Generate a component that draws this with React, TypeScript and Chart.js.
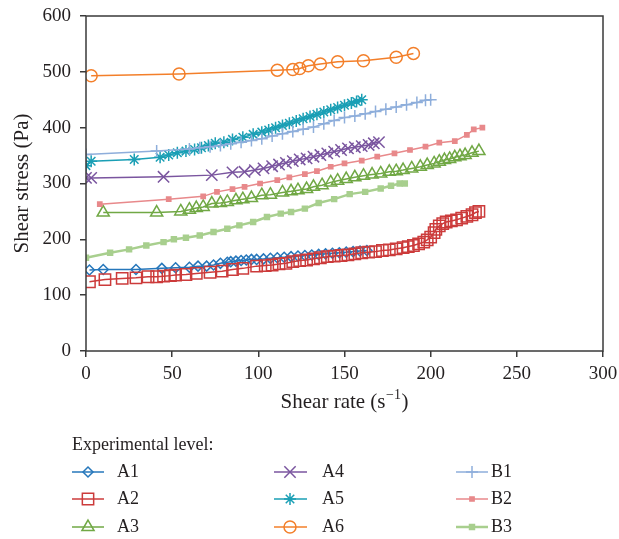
import React, { useEffect, useRef } from 'react';
import { Chart, registerables } from 'chart.js';
import { drawPoint } from 'chart.js/helpers';

Chart.register(...registerables);

const X_TICKS = [0, 50, 100, 150, 200, 250, 300];
const Y_TICKS = [0, 100, 200, 300, 400, 500, 600];

const A1_X = [2,10,29,44,52,60,65,70,74,78,82,84,87,90,93,96,99,103,107,111,115,119,123,127,131,135,139,143,147,151,155,159,163];
const A1_Y = [145,146,146,148,149,150,152,152,154,157,159,160,161,162,163,164,164,165,166,167,168,169,170,171,172,173,174,175,176,177,178,179,180];

const A2_X = [2,11,21,29,36,41,45,49,52,58,64,72,79,85,91,99,104,108,112,116,120,124,128,132,136,140,144,148,152,156,160,164,168,172,176,180,184,187,190,193,196,198,200,202,203,205,207,209,212,215,218,221,224,226,228];
const A2_Y = [124,128,130,131,133,133,134,135,136,137,139,141,143,146,148,152,153,154,156,157,160,162,163,165,167,169,170,171,172,174,176,177,178,180,181,183,185,187,189,192,195,199,204,212,218,224,228,231,233,235,238,241,244,248,250];

const A3_X = [10,41,55,60,64,68,73,78,82,87,91,96,102,107,114,119,123,128,132,137,142,146,151,156,161,166,171,176,180,184,189,194,198,202,205,208,211,214,217,220,224,228];
const A3_Y = [248,248,250,253,256,258,264,265,267,270,272,274,279,280,284,286,288,290,294,297,302,305,308,311,314,316,318,321,322,324,327,330,333,336,339,342,344,347,349,351,355,358];

const A4_X = [0,3,45,73,85,92,98,103,108,112,116,120,124,128,132,136,140,144,148,152,156,160,164,167,170];
const A4_Y = [310,310,312,315,320,321,324,327,331,334,337,340,343,345,348,351,354,357,360,363,365,367,369,372,374];

const A5_X = [0,3,28,43,48,53,58,63,67,71,75,80,85,91,97,102,106,110,114,118,122,126,130,134,138,142,146,150,154,157,160];
const A5_Y = [332,340,343,347,351,355,358,361,364,368,372,374,379,383,388,392,396,400,404,408,412,416,420,424,428,432,436,440,444,447,450];

const A6_X = [3,54,111,120,124,129,136,146,161,180,190];
const A6_Y = [493,496,503,504,506,511,514,518,520,526,533];

const B1_X = [0,41,60,66,72,78,84,90,96,102,108,114,120,126,132,138,144,150,156,162,168,174,180,186,192,197,200];
const B1_Y = [352,358,362,364,366,368,371,374,377,380,385,389,393,397,401,407,413,418,421,425,429,433,437,441,445,449,450];

const B2_X = [8,48,68,76,85,92,101,111,118,127,134,142,150,160,169,179,188,197,205,214,221,225,230];
const B2_Y = [263,272,277,285,290,294,300,306,311,317,322,330,336,341,348,354,360,366,373,376,387,397,400];

const B3_X = [0,14,25,35,45,51,58,66,74,82,89,97,105,113,119,127,135,144,153,162,171,177,182,185];
const B3_Y = [167,176,182,189,195,200,203,207,213,219,225,231,240,246,249,255,265,272,281,285,291,296,300,300];

const SERIES_NAMES = ['A1', 'A2', 'A3', 'A4', 'A5', 'A6', 'B1', 'B2', 'B3'];
const SERIES_X = [A1_X, A2_X, A3_X, A4_X, A5_X, A6_X, B1_X, B2_X, B3_X];
const SERIES_Y = [A1_Y, A2_Y, A3_Y, A4_Y, A5_Y, A6_Y, B1_Y, B2_Y, B3_Y];

const COLORS = ['#2677bb', '#cc3b3b', '#71a845', '#7a559f', '#1a9fb5', '#f37f2a', '#8eaedb', '#e8898b', '#a8cf8e'];
const STYLES: any[] = ['rectRot', 'rect', 'triangle', 'crossRot', 'star', 'circle', 'cross', 'rect', 'rect'];
const RADII = [5, 8, 7, 8, 6, 6, 6, 3, 3.5];
const FILLED = [false, false, false, false, false, false, false, true, true];
const LINE_W = [1.5, 1.5, 1.5, 1.5, 1.5, 1.5, 1.5, 1.5, 2.5];

const FONT = "'Liberation Serif', 'Times New Roman', serif";
const TEXT = '#231f20';
const AXIS = '#3a3a3a';

const decorPlugin = {
  id: 'decor',
  afterDraw(chart: any) {
    const ctx = chart.ctx as CanvasRenderingContext2D;
    const a = chart.chartArea;
    ctx.save();
    // frame
    ctx.strokeStyle = AXIS;
    ctx.lineWidth = 1.5;
    ctx.strokeRect(a.left, a.top, a.right - a.left, a.bottom - a.top);

    ctx.fillStyle = TEXT;
    // y title
    ctx.font = `21px ${FONT}`;
    ctx.textAlign = 'center';
    ctx.textBaseline = 'middle';
    ctx.save();
    ctx.translate(22, (a.top + a.bottom) / 2);
    ctx.rotate(-Math.PI / 2);
    ctx.fillText('Shear stress (Pa)', 0, 0);
    ctx.restore();

    // x title with superscript
    const p1 = 'Shear rate (s';
    const p2 = '\u22121';
    const p3 = ')';
    ctx.font = `21px ${FONT}`;
    const w1 = ctx.measureText(p1).width;
    const w3 = ctx.measureText(p3).width;
    ctx.font = `14px ${FONT}`;
    const w2 = ctx.measureText(p2).width;
    const total = w1 + w2 + w3 + 1;
    let sx = (a.left + a.right) / 2 - total / 2;
    const ty = 402;
    ctx.textAlign = 'left';
    ctx.font = `21px ${FONT}`;
    ctx.fillText(p1, sx, ty);
    sx += w1 + 0.5;
    ctx.font = `14px ${FONT}`;
    ctx.fillText(p2, sx, ty - 7);
    sx += w2 + 0.5;
    ctx.font = `21px ${FONT}`;
    ctx.fillText(p3, sx, ty);

    // legend
    ctx.font = `18px ${FONT}`;
    ctx.textAlign = 'left';
    ctx.fillText('Experimental level:', 72, 445);
    const cols = [
      { l0: 72, l1: 104, m: 88, t: 117 },
      { l0: 274, l1: 307, m: 290, t: 322 },
      { l0: 456, l1: 488, m: 472, t: 491 },
    ];
    const rows = [472, 499, 527];
    for (let i = 0; i < 9; i++) {
      const c = cols[Math.floor(i / 3)];
      const y = rows[i % 3];
      ctx.strokeStyle = COLORS[i];
      ctx.lineWidth = LINE_W[i];
      ctx.beginPath();
      ctx.moveTo(c.l0, y);
      ctx.lineTo(c.l1, y);
      ctx.stroke();
      ctx.lineWidth = 1.5;
      ctx.fillStyle = FILLED[i] ? COLORS[i] : 'rgba(0,0,0,0)';
      drawPoint(ctx, { pointStyle: STYLES[i], radius: RADII[i], rotation: 0, borderWidth: 1.5 } as any, c.m, y);
      ctx.fillStyle = TEXT;
      ctx.fillText(SERIES_NAMES[i], c.t, y);
    }
    ctx.restore();
  },
};

export default function App() {
  const ref = useRef<HTMLCanvasElement | null>(null);
  useEffect(() => {
    if (!ref.current) return;
    const datasets = SERIES_NAMES.map((name, i) => ({
      label: name,
      data: SERIES_X[i].map((x, j) => ({ x, y: SERIES_Y[i][j] })),
      showLine: true,
      borderColor: COLORS[i],
      borderWidth: LINE_W[i],
      pointStyle: STYLES[i],
      pointRadius: RADII[i],
      pointBorderWidth: 1.5,
      pointBorderColor: COLORS[i],
      pointBackgroundColor: FILLED[i] ? COLORS[i] : 'rgba(0,0,0,0)',
      backgroundColor: 'rgba(0,0,0,0)',
      order: 9 - i,
      tension: 0,
    }));
    const chart = new Chart(ref.current, {
      type: 'scatter',
      data: { datasets },
      plugins: [decorPlugin],
      options: {
        animation: false,
        responsive: true,
        maintainAspectRatio: false,
        layout: { autoPadding: false, padding: { left: 0, right: 16, top: 16, bottom: 0 } },
        plugins: { legend: { display: false }, tooltip: { enabled: false } },
        scales: {
          x: {
            type: 'linear',
            min: 0,
            max: 300,
            afterFit: (s: any) => { s.height = 188; s.paddingRight = 0; s.paddingLeft = 0; },
            afterBuildTicks: (s: any) => { s.ticks = X_TICKS.map((v) => ({ value: v })); },
            border: { display: false },
            grid: { drawOnChartArea: false, drawTicks: true, tickLength: 6, color: AXIS, lineWidth: 1.5 },
            ticks: { color: TEXT, font: { family: FONT, size: 19 }, padding: 6, maxRotation: 0 },
          },
          y: {
            type: 'linear',
            min: 0,
            max: 600,
            afterFit: (s: any) => { s.width = 86; s.paddingTop = 0; s.paddingBottom = 0; },
            afterBuildTicks: (s: any) => { s.ticks = Y_TICKS.map((v) => ({ value: v })); },
            border: { display: false },
            grid: { drawOnChartArea: false, drawTicks: true, tickLength: 6, color: AXIS, lineWidth: 1.5 },
            ticks: { color: TEXT, font: { family: FONT, size: 19 }, padding: 9 },
          },
        },
      },
    });
    return () => chart.destroy();
  }, []);
  return (
    <div style={{ position: 'absolute', left: 0, top: 0, width: 619, height: 539, background: '#fff' }}>
      <canvas ref={ref} />
    </div>
  );
}
